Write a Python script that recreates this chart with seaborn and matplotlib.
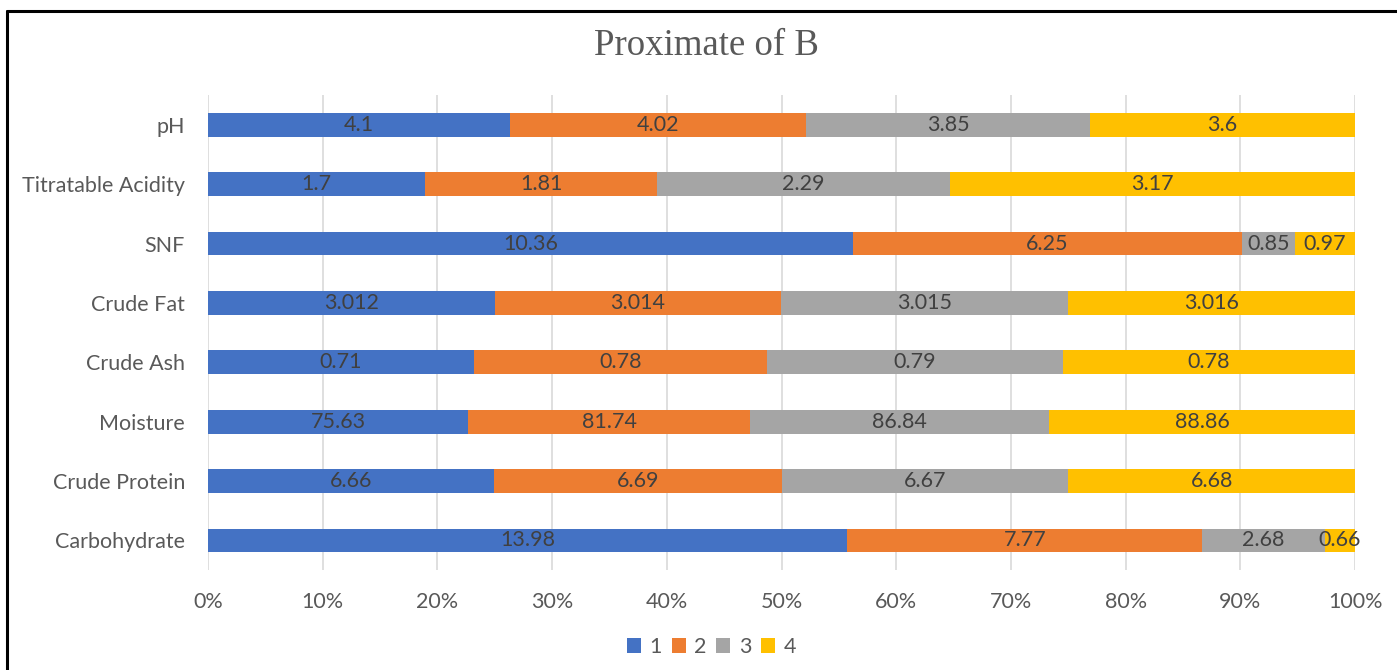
import numpy as np
import pandas as pd
import seaborn as sns
import matplotlib
matplotlib.use("Agg")
import matplotlib.pyplot as plt
from matplotlib.lines import Line2D
from matplotlib.patches import Patch

# Parameters (top to bottom) and the four sample values for each
categories = ["pH", "Titratable Acidity", "SNF", "Crude Fat",
              "Crude Ash", "Moisture", "Crude Protein", "Carbohydrate"]
series_names = ["1", "2", "3", "4"]
s1 = [4.1, 1.7, 10.36, 3.012, 0.71, 75.63, 6.66, 13.98]
s2 = [4.02, 1.81, 6.25, 3.014, 0.78, 81.74, 6.69, 7.77]
s3 = [3.85, 2.29, 0.85, 3.015, 0.79, 86.84, 6.67, 2.68]
s4 = [3.6, 3.17, 0.97, 3.016, 0.78, 88.86, 6.68, 0.66]
x_ticks = [0, 10, 20, 30, 40, 50, 60, 70, 80, 90, 100]

colors = ["#4472C4", "#ED7D31", "#A5A5A5", "#FFC000"]
text_grey = "#595959"
label_grey = "#404040"
fs = 15.5

sns.set_theme(style="white")
plt.rcParams["font.family"] = ["Lato", "DejaVu Sans"]

values = np.array([s1, s2, s3, s4], dtype=float)
shares = values / values.sum(axis=0) * 100
cum = np.cumsum(shares, axis=0)
starts = cum - shares

fig = plt.figure(figsize=(13.97, 6.70), dpi=100)
ax = fig.add_axes([0.1489, 0.149, 0.8211, 0.709])

# Stacked 100% bars: draw the cumulative totals from the outermost inward
for i in reversed(range(len(series_names))):
    df = pd.DataFrame({"category": categories, "cum": cum[i]})
    sns.barplot(data=df, y="category", x="cum", order=categories,
                color=colors[i], width=0.4, ax=ax, saturation=1,
                edgecolor="none", linewidth=0, zorder=3)

# Value labels centred in each segment
for i in range(len(series_names)):
    for j, cat in enumerate(categories):
        ax.text(starts[i, j] + shares[i, j] / 2, j,
                f"{values[i, j]:g}", ha="center", va="center",
                color=label_grey, fontsize=fs, zorder=5)

ax.set_xlim(0, 100)
ax.set_ylim(len(categories) - 0.5, -0.5)
ax.set_xticks(x_ticks)
ax.set_xticklabels([f"{t}%" for t in x_ticks])
ax.set_xlabel("")
ax.set_ylabel("")
ax.tick_params(axis="x", length=0, pad=16, labelsize=fs, labelcolor=text_grey)
ax.tick_params(axis="y", length=0, pad=16.5, labelsize=fs, labelcolor=text_grey)
ax.grid(axis="x", color="#D9D9D9", linewidth=1.2, zorder=0)
ax.grid(axis="y", visible=False)
for sp in ax.spines.values():
    sp.set_visible(False)

fig.text(0.5055, 0.932, "Proximate of B", ha="center", va="center",
         fontsize=26.5, color=text_grey, family=["Liberation Serif", "DejaVu Serif"])

handles = [Patch(facecolor=c, edgecolor="none") for c in colors]
fig.legend(handles, series_names, loc="center", bbox_to_anchor=(0.5093, 0.034),
           ncol=4, frameon=False, fontsize=fs, labelcolor=text_grey,
           handlelength=0.65, handleheight=0.65, handletextpad=0.4,
           columnspacing=0.45)

# Outer frame (top and left edges)
fig.add_artist(Line2D([0.005, 1.0], [0.9836, 0.9836], color="black", linewidth=2.2,
                      transform=fig.transFigure))
fig.add_artist(Line2D([0.0052, 0.0052], [0.0, 0.9836], color="black", linewidth=2.2,
                      transform=fig.transFigure))

fig.savefig("out.png", dpi=100, facecolor="white")
